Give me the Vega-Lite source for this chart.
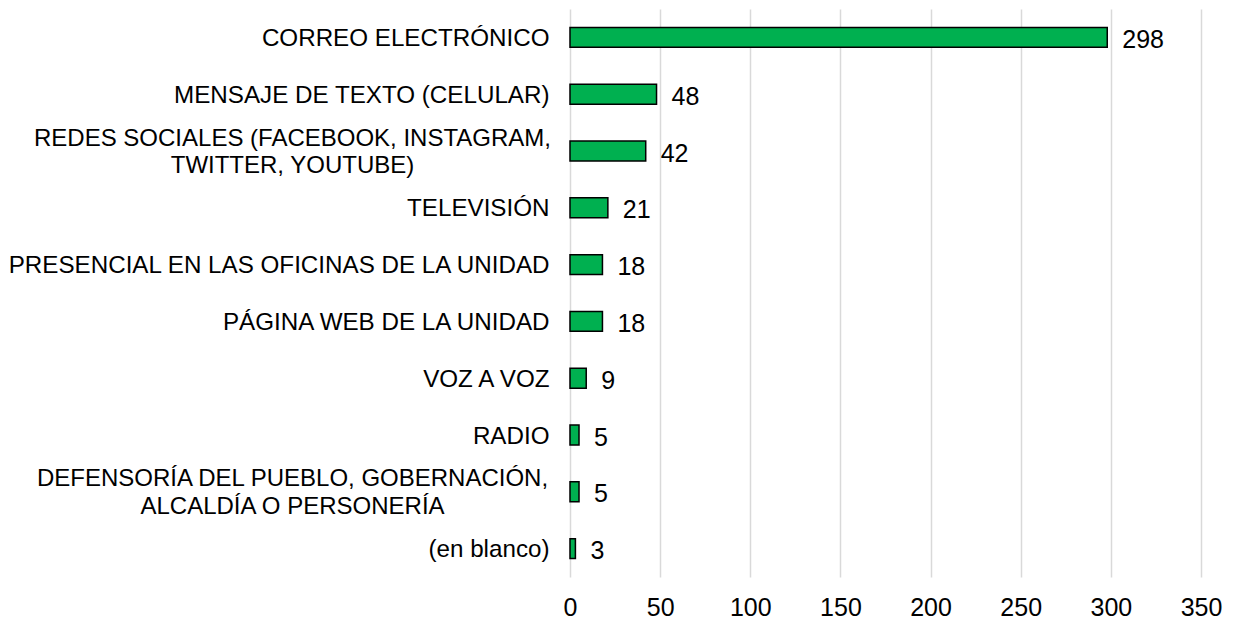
{
  "$schema": "https://vega.github.io/schema/vega-lite/v6.json",
  "width": 631,
  "height": 568,
  "autosize": {"type": "none"},
  "padding": {"left": 570, "top": 9, "right": 32, "bottom": 43},
  "background": "white",
  "config": {
    "view": {"stroke": null},
    "font": "Liberation Sans",
    "axis": {"domain": false, "ticks": false, "labelFont": "Liberation Sans", "labelColor": "#000000", "titleFont": "Liberation Sans"}
  },
  "data": {
    "values": [
      {"cat": "CORREO ELECTRÓNICO", "value": 298},
      {"cat": "MENSAJE DE TEXTO (CELULAR)", "value": 48},
      {"cat": "REDES SOCIALES (FACEBOOK, INSTAGRAM,|TWITTER, YOUTUBE)", "value": 42},
      {"cat": "TELEVISIÓN", "value": 21},
      {"cat": "PRESENCIAL EN LAS OFICINAS DE LA UNIDAD", "value": 18},
      {"cat": "PÁGINA WEB DE LA UNIDAD", "value": 18},
      {"cat": "VOZ A VOZ", "value": 9},
      {"cat": "RADIO", "value": 5},
      {"cat": "DEFENSORÍA DEL PUEBLO, GOBERNACIÓN,|ALCALDÍA O PERSONERÍA", "value": 5},
      {"cat": "(en blanco)", "value": 3}
    ]
  },
  "layer": [
    {
      "mark": {"type": "bar", "color": "#00B050", "stroke": "#000000", "strokeWidth": 1.5},
      "encoding": {
        "y": {
          "field": "cat", "type": "nominal", "sort": null,
          "scale": {"paddingInner": 0.65, "paddingOuter": 0.325},
          "axis": {
            "title": null, "orient": "left", "grid": false,
            "labelFontSize": 24.2, "labelPadding": 21, "labelLimit": 800,
            "labelAlign": "right", "labelBaseline": "middle", "labelOverlap": false,
            "labelOffset": 1.5,
            "labelExpr": "length(split(datum.label, '|')) > 1 ? '' : datum.label"
          }
        },
        "x": {
          "field": "value", "type": "quantitative",
          "scale": {"domain": [0, 350], "nice": false},
          "axis": {
            "title": null, "values": [0, 50, 100, 150, 200, 250, 300, 350],
            "grid": true, "gridColor": "#d9d9d9", "gridWidth": 1.5,
            "labelFontSize": 25, "labelPadding": 18, "labelOverlap": false, "labelFlush": false
          }
        }
      }
    },
    {
      "mark": {"type": "text", "align": "left", "baseline": "middle", "dx": 15, "dy": 2.5, "fontSize": 25, "color": "#000000", "font": "Liberation Sans"},
      "encoding": {
        "y": {
          "field": "cat", "type": "nominal", "sort": null,
          "axis": {
            "title": null, "orient": "left", "grid": false,
            "labelFontSize": 24, "labelPadding": 278, "labelLimit": 800,
            "labelAlign": "center", "labelBaseline": "middle", "labelOverlap": false,
            "labelLineHeight": 27.5, "labelOffset": -12.5,
            "labelExpr": "length(split(datum.label, '|')) > 1 ? split(datum.label, '|') : ''"
          }
        },
        "x": {"field": "value", "type": "quantitative"},
        "text": {"field": "value", "type": "quantitative"}
      }
    }
  ],
  "resolve": {"axis": {"y": "independent"}}
}
